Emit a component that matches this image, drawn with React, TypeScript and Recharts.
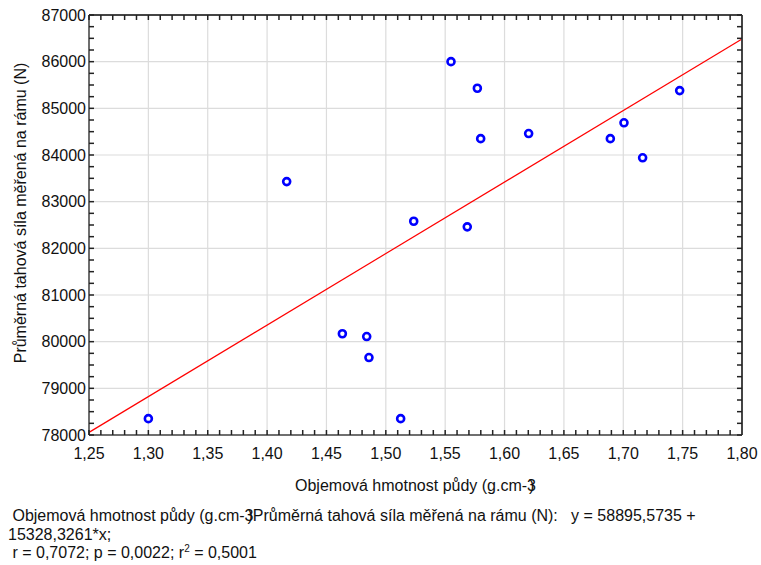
import React from 'react'
import {
  ScatterChart,
  Scatter,
  XAxis,
  YAxis,
  CartesianGrid,
  ReferenceLine,
  Label,
} from 'recharts'

// soil bulk density (g.cm-3) vs mean draught force (N)
const density = [
  1.3, 1.4165, 1.4634, 1.4839, 1.4858, 1.5125, 1.5235, 1.5549,
  1.5771, 1.5799, 1.5686, 1.6203, 1.6891, 1.7006, 1.7163, 1.7475,
]
const force = [
  78350, 83430, 80170, 80110, 79660, 78350, 82580, 86000,
  85430, 84350, 82460, 84460, 84350, 84690, 83940, 85380,
]

// regression from the chart caption
const intercept = 58895.5735
const slope = 15328.3261

const xTicks = [1.25, 1.3, 1.35, 1.4, 1.45, 1.5, 1.55, 1.6, 1.65, 1.7, 1.75, 1.8]
const yTicks = [78000, 79000, 80000, 81000, 82000, 83000, 84000, 85000, 86000, 87000]
const xMinor = Array.from({ length: 56 }, (_, i) => Math.round((1.25 + i * 0.01) * 100) / 100)
const yMinor = Array.from({ length: 37 }, (_, i) => 78000 + i * 250)

const points = density.map((x, i) => ({ x, y: force[i] }))

const font = "'Liberation Sans', Arial, sans-serif"
const frame = '#444'

const Ring = (props: any) => (
  <circle cx={props.cx} cy={props.cy} r={3.5} fill="#fff" stroke="#0000ff" strokeWidth={2.6} />
)

const Nothing = () => <g />
const blank = () => ''

const fmtX = (v: number) => v.toFixed(2).replace('.', ',')

export default function App() {
  const x0 = 1.25
  const x1 = 1.8
  return (
    <div style={{ position: 'absolute', left: 0, top: 0, width: 761, height: 565, background: '#fff', fontFamily: font }}>
      <ScatterChart
        width={761}
        height={500}
        margin={{ top: 15, right: 19, left: 0, bottom: 0 }}
        style={{ fontFamily: font }}
      >
        <CartesianGrid stroke="#dcdcdc" strokeWidth={1.2} />
        <XAxis
          type="number"
          dataKey="x"
          domain={[1.25, 1.8]}
          allowDataOverflow
          ticks={xTicks}
          tickFormatter={fmtX}
          tickLine={false}
          tickSize={0}
          tickMargin={13}
          height={65}
          axisLine={{ stroke: frame, strokeWidth: 1.5 }}
          tick={{ fill: '#111', fontSize: 16 }}
        >
          <Label
            content={({ viewBox }: any) => (
              <text
                x={viewBox.x + viewBox.width / 2}
                y={viewBox.y + 56}
                textAnchor="middle"
                fontSize={16}
                fill="#111"
              >
                Objemová hmotnost půdy (g.cm-3<tspan dx={-7}>)</tspan>
              </text>
            )}
          />
        </XAxis>
        <YAxis
          type="number"
          dataKey="y"
          domain={[78000, 87000]}
          allowDataOverflow
          ticks={yTicks}
          tickLine={false}
          tickSize={0}
          tickMargin={3}
          width={89}
          axisLine={{ stroke: frame, strokeWidth: 1.5 }}
          tick={{ fill: '#111', fontSize: 16 }}
        >
          <Label
            content={({ viewBox }: any) => (
              <text
                transform={`translate(26, ${viewBox.y + viewBox.height / 2 - 12}) rotate(-90)`}
                textAnchor="middle"
                fontSize={16}
                fill="#111"
              >
                Průměrná tahová síla měřená na rámu (N)
              </text>
            )}
          />
        </YAxis>

        {/* inward minor ticks on all four sides */}
        <XAxis
          xAxisId="bm"
          type="number"
          dataKey="x"
          orientation="bottom"
          mirror
          domain={[1.25, 1.8]}
          allowDataOverflow
          ticks={xMinor}
          interval={0}
          tickSize={5}
          tickMargin={0}
          tickFormatter={blank}
          tick={{ fill: 'none', fontSize: 1 }}
          tickLine={{ stroke: '#222', strokeWidth: 1.5 }}
          axisLine={false}
          height={1}
        />
        <XAxis
          xAxisId="tm"
          type="number"
          dataKey="x"
          orientation="top"
          mirror
          domain={[1.25, 1.8]}
          allowDataOverflow
          ticks={xMinor}
          interval={0}
          tickSize={5}
          tickMargin={0}
          tickFormatter={blank}
          tick={{ fill: 'none', fontSize: 1 }}
          tickLine={{ stroke: '#222', strokeWidth: 1.5 }}
          axisLine={{ stroke: frame, strokeWidth: 2 }}
          height={1}
        />
        <YAxis
          yAxisId="lm"
          type="number"
          dataKey="y"
          orientation="left"
          mirror
          domain={[78000, 87000]}
          allowDataOverflow
          ticks={yMinor}
          interval={0}
          tickSize={5}
          tickMargin={0}
          tickFormatter={blank}
          tick={{ fill: 'none', fontSize: 1 }}
          tickLine={{ stroke: '#222', strokeWidth: 1.5 }}
          axisLine={false}
          width={1}
        />
        <YAxis
          yAxisId="rm"
          type="number"
          dataKey="y"
          orientation="right"
          mirror
          domain={[78000, 87000]}
          allowDataOverflow
          ticks={yMinor}
          interval={0}
          tickSize={5}
          tickMargin={0}
          tickFormatter={blank}
          tick={{ fill: 'none', fontSize: 1 }}
          tickLine={{ stroke: '#222', strokeWidth: 1.5 }}
          axisLine={{ stroke: frame, strokeWidth: 2 }}
          width={1}
        />

        <ReferenceLine
          segment={[
            { x: x0, y: intercept + slope * x0 },
            { x: x1, y: intercept + slope * x1 },
          ]}
          stroke="#ff0000"
          strokeWidth={1.2}
        />
        {/* invisible copies so the tick-only axes get a scale */}
        <Scatter data={points} xAxisId="bm" yAxisId="lm" shape={Nothing} isAnimationActive={false} />
        <Scatter data={points} xAxisId="tm" yAxisId="rm" shape={Nothing} isAnimationActive={false} />
        <Scatter data={points} shape={Ring} isAnimationActive={false} />
      </ScatterChart>

      <div
        style={{
          position: 'absolute',
          left: 8,
          top: 507,
          fontSize: 16,
          lineHeight: '18.5px',
          color: '#111',
          whiteSpace: 'pre',
        }}
      >
        <div>
          {' Objemová hmotnost půdy (g.cm-3'}
          <span style={{ marginLeft: -6 }}>)</span>
          {'Průměrná tahová síla měřená na rámu (N):   y = 58895,5735 +'}
        </div>
        <div>15328,3261*x;</div>
        <div>
          {' r = 0,7072; p = 0,0022; r'}
          <sup style={{ fontSize: 10, verticalAlign: 6, lineHeight: 0 }}>2</sup>
          {' = 0,5001'}
        </div>
      </div>
    </div>
  )
}
